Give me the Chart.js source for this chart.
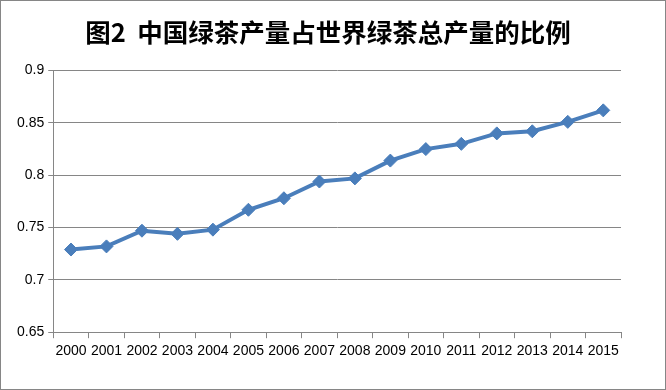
<!DOCTYPE html>
<html>
<head>
<meta charset="utf-8">
<script src="https://cdn.jsdelivr.net/npm/chart.js@4.4.1/dist/chart.umd.min.js"></script>
<style>
  html, body { margin: 0; padding: 0; background: #fff; }
  canvas { display: block; }
</style>
</head>
<body>
<canvas id="teaChart" width="666" height="390"></canvas>
<script>
// --- DATA ---
const titleText = "图2  中国绿茶产量占世界绿茶总产量的比例";
const years = ["2000", "2001", "2002", "2003", "2004", "2005", "2006", "2007",
               "2008", "2009", "2010", "2011", "2012", "2013", "2014", "2015"];
const chinaShare = [0.729, 0.732, 0.747, 0.744, 0.748, 0.767, 0.778, 0.794,
                    0.797, 0.814, 0.825, 0.830, 0.840, 0.842, 0.851, 0.862];
const yTicks = [0.65, 0.7, 0.75, 0.8, 0.85, 0.9];

const gridGray = '#868686';
const lineBlue = '#4a7ebb';

// white page + thin gray frame like the Excel chart box
const frame = {
    id: 'frame',
    beforeDraw(chart) {
        const c = chart.ctx;
        c.save();
        c.fillStyle = '#fff';
        c.fillRect(0, 0, chart.width, chart.height);
        c.restore();
    },
    afterDraw(chart) {
        const c = chart.ctx;
        c.save();
        c.strokeStyle = gridGray;
        c.lineWidth = 1;
        c.strokeRect(0.5, 0.5, chart.width - 1, chart.height - 1);
        c.restore();
    }
};

new Chart(document.getElementById('teaChart'), {
    type: 'line',
    data: {
        labels: years,
        datasets: [{
            label: '比例',
            data: chinaShare,
            borderColor: lineBlue,
            backgroundColor: lineBlue,
            borderWidth: 4,
            pointStyle: 'rectRot',
            pointRadius: 6.5,
            pointBackgroundColor: lineBlue,
            pointBorderColor: lineBlue,
            pointBorderWidth: 1,
            tension: 0
        }]
    },
    options: {
        responsive: false,
        animation: false,
        devicePixelRatio: 1,
        layout: { padding: { left: 13, right: 23, top: 0, bottom: 25 } },
        plugins: {
            legend: { display: false },
            tooltip: { enabled: false },
            title: {
                display: true,
                text: titleText,
                color: '#000',
                font: { family: "'Noto Sans CJK SC'", size: 25.5, weight: 'bold' },
                padding: { top: 17, bottom: 23 }
            }
        },
        scales: {
            x: {
                type: 'category',
                offset: true,
                grid: { offset: true, drawOnChartArea: false, color: gridGray, tickLength: 6 },
                border: { color: gridGray },
                ticks: {
                    color: '#000',
                    font: { family: "'Liberation Sans'", size: 14 },
                    maxRotation: 0,
                    autoSkip: false,
                    padding: 5
                }
            },
            y: {
                min: yTicks[0],
                max: yTicks[yTicks.length - 1],
                afterBuildTicks: (axis) => { axis.ticks = yTicks.map(v => ({ value: v })); },
                grid: { color: gridGray, tickLength: 5 },
                border: { color: gridGray },
                ticks: {
                    color: '#000',
                    font: { family: "'Liberation Sans'", size: 14 },
                    padding: 4,
                    callback: (v) => String(Number(v.toFixed(2)))
                }
            },
            // empty spacer on the right so the plot ends where the reference does
            // while the title stays centred on the page
            spacer: {
                type: 'linear',
                position: 'right',
                grid: { display: false },
                border: { display: false },
                ticks: { display: false },
                afterFit: (s) => { s.width = 22; }
            }
        }
    },
    plugins: [frame]
});
</script>
</body>
</html>
